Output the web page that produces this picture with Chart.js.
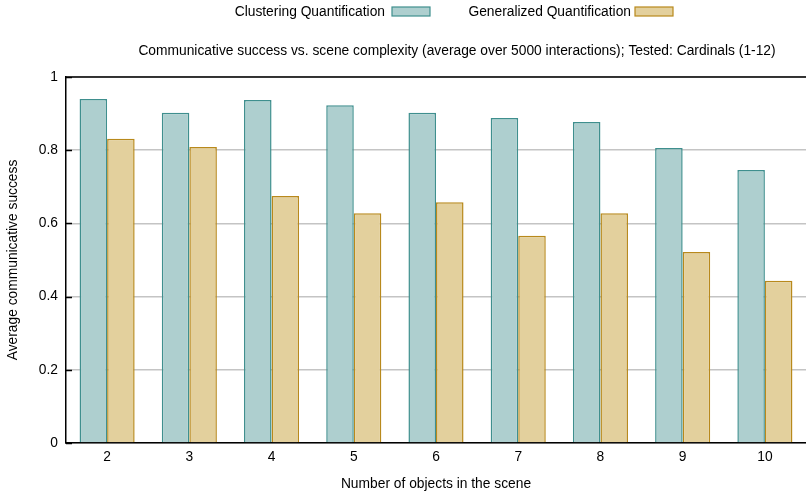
<!DOCTYPE html>
<html>
<head>
<meta charset="utf-8">
<script src="https://cdn.jsdelivr.net/npm/chart.js@4/dist/chart.umd.min.js"></script>
<style>
  html, body { margin: 0; padding: 0; background: #fff; }
  #wrap { position: relative; width: 806px; height: 492px; }
</style>
</head>
<body>
<div id="wrap"><canvas id="c" width="806" height="492"></canvas></div>
<script>
// Scene sizes (number of objects) on the x axis
const categories = ['2', '3', '4', '5', '6', '7', '8', '9', '10'];
// Average communicative success per scene size
const clusteringValues  = [0.940, 0.902, 0.937, 0.923, 0.902, 0.888, 0.877, 0.806, 0.746];
const generalizedValues = [0.831, 0.809, 0.675, 0.628, 0.658, 0.566, 0.628, 0.522, 0.443];
const seriesNames = ['Clustering Quantification', 'Generalized Quantification'];
const yTicks = [0, 0.2, 0.4, 0.6, 0.8, 1];
const chartTitle = 'Communicative success vs. scene complexity (average over 5000 interactions); Tested: Cardinals (1-12)';

const FONT = '"Liberation Sans", Arial, Helvetica, sans-serif';
const FS = 13.8;

// Key at the top (label on the left, swatch on the right), the caption line,
// the top frame line and the short inward tick marks on the value axis
const keyAndCaption = {
  id: 'keyAndCaption',
  afterDraw(chart) {
    const ctx = chart.ctx;
    ctx.save();
    ctx.font = FS + 'px ' + FONT;
    ctx.textBaseline = 'middle';
    const slots = [{ textRight: 385, box: 392 }, { textRight: 631, box: 635 }];
    chart.data.datasets.forEach((ds, i) => {
      const s = slots[i];
      ctx.textAlign = 'right';
      ctx.fillStyle = '#000';
      ctx.fillText(ds.label, s.textRight, 12);
      ctx.fillStyle = ds.backgroundColor;
      ctx.fillRect(s.box, 7, 38, 9);
      ctx.strokeStyle = ds.borderColor;
      ctx.lineWidth = 1.2;
      ctx.strokeRect(s.box, 7, 38, 9);
    });
    ctx.fillStyle = '#000';
    ctx.textAlign = 'center';
    ctx.fillText(chartTitle, 457, 51);

    const a = chart.chartArea;
    const y = chart.scales.y;
    ctx.strokeStyle = '#000';
    ctx.lineWidth = 1.5;
    ctx.beginPath();
    ctx.moveTo(a.left, a.top);
    ctx.lineTo(a.right, a.top);
    yTicks.forEach(v => {
      const py = Math.round(y.getPixelForValue(v)) + 0.5;
      ctx.moveTo(a.left, py);
      ctx.lineTo(a.left + 6, py);
    });
    ctx.stroke();
    ctx.restore();
  }
};

new Chart(document.getElementById('c'), {
  type: 'bar',
  data: {
    labels: categories,
    datasets: [
      {
        label: seriesNames[0],
        data: clusteringValues,
        backgroundColor: '#aecfcf',
        borderColor: '#3f8f8e',
        borderWidth: 1.5,
        categoryPercentage: 0.67,
        barPercentage: 1.0
      },
      {
        label: seriesNames[1],
        data: generalizedValues,
        backgroundColor: '#e3d09d',
        borderColor: '#b8891c',
        borderWidth: 1.5,
        categoryPercentage: 0.67,
        barPercentage: 1.0
      }
    ]
  },
  options: {
    responsive: false,
    animation: false,
    layout: { padding: { top: 77, right: 0, left: 0, bottom: 0 } },
    plugins: {
      legend: { display: false },
      title: { display: false },
      tooltip: { enabled: false }
    },
    scales: {
      x: {
        offset: true,
        grid: { display: false, drawTicks: false },
        border: { display: true, color: '#000', width: 1.5 },
        ticks: { color: '#000', font: { family: FONT, size: FS }, padding: 6 },
        title: {
          display: true,
          text: 'Number of objects in the scene',
          color: '#000',
          font: { family: FONT, size: FS },
          padding: { top: 4, bottom: 0 }
        },
        afterFit(scale) { scale.height = 49; }
      },
      y: {
        min: 0,
        max: 1,
        afterBuildTicks(scale) { scale.ticks = yTicks.map(v => ({ value: v })); },
        grid: { color: '#c4c4c4', lineWidth: 1.5, drawTicks: false },
        border: { display: true, color: '#000', width: 1.5 },
        ticks: {
          color: '#000',
          font: { family: FONT, size: FS },
          padding: 8,
          callback: v => String(v)
        },
        title: {
          display: true,
          text: 'Average communicative success',
          color: '#000',
          font: { family: FONT, size: FS },
          padding: { top: 5, bottom: 0 }
        },
        afterFit(scale) { scale.width = 66; }
      }
    }
  },
  plugins: [keyAndCaption]
});
</script>
</body>
</html>
